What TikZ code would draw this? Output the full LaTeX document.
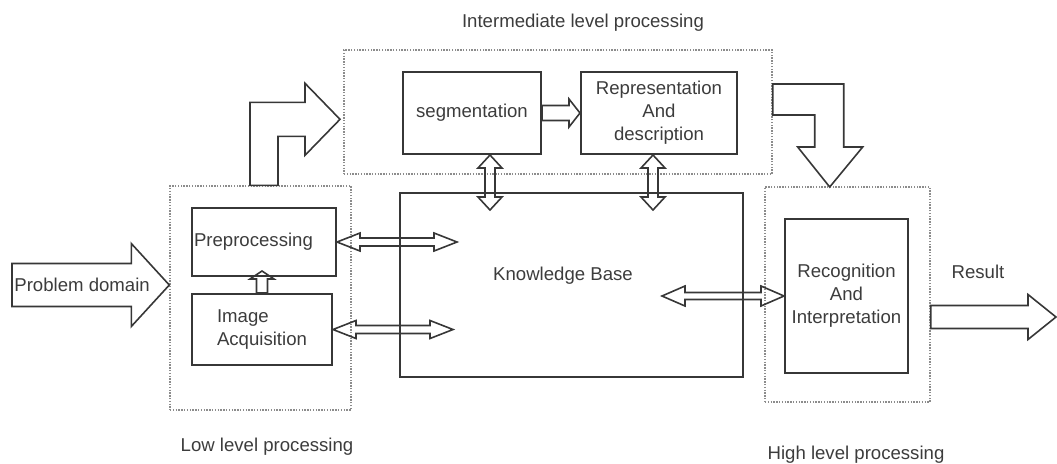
\documentclass[tikz,border=0pt]{standalone}
\usepackage{fontspec}
\setmainfont{Liberation Sans}
\usetikzlibrary{calc, positioning}
\definecolor{LineGray}{RGB}{55,55,55}
\definecolor{DotGray}{RGB}{140,140,140}
\definecolor{TextGray}{RGB}{60,60,60}

% outlined block arrows: shaft half width, head half width, head length
\tikzset{
  hsgl/.style n args={3}{to path={let \p1=(\tikztostart), \p2=(\tikztotarget) in
    (\x1,\y1+#1) -- (\x2-#3,\y1+#1) -- (\x2-#3,\y1+#2) -- (\x2,\y1)
    -- (\x2-#3,\y1-#2) -- (\x2-#3,\y1-#1) -- (\x1,\y1-#1) -- cycle}},
  hdbl/.style n args={3}{to path={let \p1=(\tikztostart), \p2=(\tikztotarget) in
    (\x1,\y1) -- (\x1+#3,\y1+#2) -- (\x1+#3,\y1+#1) -- (\x2-#3,\y1+#1) -- (\x2-#3,\y1+#2)
    -- (\x2,\y1) -- (\x2-#3,\y1-#2) -- (\x2-#3,\y1-#1) -- (\x1+#3,\y1-#1) -- (\x1+#3,\y1-#2) -- cycle}},
  vsgl/.style n args={3}{to path={let \p1=(\tikztostart), \p2=(\tikztotarget) in
    (\x1-#1,\y1) -- (\x1-#1,\y2-#3) -- (\x1-#2,\y2-#3) -- (\x1,\y2)
    -- (\x1+#2,\y2-#3) -- (\x1+#1,\y2-#3) -- (\x1+#1,\y1) -- cycle}},
  vdbl/.style n args={3}{to path={let \p1=(\tikztostart), \p2=(\tikztotarget) in
    (\x1,\y1) -- (\x1-#2,\y1-#3) -- (\x1-#1,\y1-#3) -- (\x1-#1,\y2+#3) -- (\x1-#2,\y2+#3)
    -- (\x1,\y2) -- (\x1+#2,\y2+#3) -- (\x1+#1,\y2+#3) -- (\x1+#1,\y1-#3) -- (\x1+#2,\y1-#3) -- cycle}},
}

\begin{document}
\begin{tikzpicture}[x=0.5pt, y=-0.5pt,
  font=\fontsize{9.3}{11.5}\selectfont,
  txt/.style={text=TextGray},
  blockbox/.style={draw=LineGray, line width=1pt, txt, align=center, inner sep=0pt},
  stagebox/.style={draw=DotGray, line width=0.7pt, dash pattern=on 0.7pt off 0.7pt},
  blk/.style={draw=LineGray, line width=0.8pt, line join=miter}
]
  \useasboundingbox (0,0) rectangle (1057,463);

  % ---- stages ----
  \node[stagebox, minimum width=90.5pt, minimum height=112pt] (low) at (260.5,298) {};
  \node[stagebox, minimum width=214pt, minimum height=62pt] (inter) at (558,112) {};
  \node[stagebox, minimum width=82.5pt, minimum height=107.5pt] (high) at (847.5,294.5) {};
  \node[txt] (lowlabel) at (267,447) {Low level processing};
  \node[txt] (interlabel) at (583,23) {Intermediate level processing};
  \node[txt] (highlabel) at (856,455) {High level processing};

  % ---- blocks ----
  \node[blockbox, minimum width=72pt, minimum height=34pt, text width=70pt, align=left] (pre) at (264,242) {Preprocessing};
  \node[blockbox, minimum width=70pt, minimum height=35.5pt, align=left] (acq) at (262,329.5) {Image\\Acquisition};
  \node[blockbox, minimum width=69pt, minimum height=41pt] (seg) at (472,113) {segmentation};
  \node[blockbox, minimum width=78pt, minimum height=41pt] (rep) at (659,113) {Representation\\And\\description};
  \node[blockbox, minimum width=171.5pt, minimum height=92pt] (kb) at (571.5,285) {};
  \node[txt] (kbtext) at (563,276) {Knowledge Base};
  \node[blockbox, minimum width=61.5pt, minimum height=77pt] (rec) at (846.5,296) {Recognition\\And\\Interpretation};

  % ---- free ends ----
  \coordinate (pdstart) at (12,285);
  \coordinate (resend) at (1056,317);
  \coordinate (kbpre) at (457,242);
  \coordinate (kbacq) at (453,329.5);
  \coordinate (kbrec) at (662,296);
  \coordinate (kbseg) at (490,210);
  \coordinate (kbrep) at (653,210);

  % ---- input / output ----
  \draw[blk, hsgl={10.75pt}{20.75pt}{19pt}] (pdstart) to (low.west |- pdstart);
  \node[txt, anchor=west, inner sep=1pt] (pdtext) at (pdstart) {Problem domain};
  \draw[blk, hsgl={5.75pt}{11.25pt}{14pt}] (high.east |- resend) to (resend);
  \node[txt] (reslabel) at (978,272) {Result};

  % ---- inner arrows ----
  \draw[blk, vsgl={2.75pt}{6pt}{4pt}] (acq.north) to ([yshift=3pt]pre.south);
  \draw[blk, hsgl={3.75pt}{7pt}{5.5pt}] (seg.east) to (rep.west);
  \draw[blk, hdbl={2pt}{4.5pt}{11.5pt}] (pre.east) to (kbpre);
  \draw[blk, hdbl={2pt}{4.5pt}{11.5pt}] (acq.east) to (kbacq);
  \draw[blk, hdbl={1.75pt}{5pt}{11.5pt}] (kbrec) to (rec.west);
  \draw[blk, vdbl={2.5pt}{6pt}{6.5pt}] (seg.south -| kbseg) to (kbseg);
  \draw[blk, vdbl={2.5pt}{6pt}{6.5pt}] (rep.south -| kbrep) to (kbrep);

  % ---- stage to stage ----
  \draw[blk] ([xshift=-5.25pt]low.north) -- ++(0,-83) -- ++(55,0) -- ++(0,-19)
    -- ++(35,36) -- ++(-35,36) -- ++(0,-19) -- ++(-27,0) -- ++(0,49) -- cycle;
  \draw[blk] ([yshift=14pt]inter.east) -- ++(71,0) -- ++(0,63) -- ++(19,0)
    -- ++(-33,40) -- ++(-32,-40) -- ++(17,0) -- ++(0,-32) -- ++(-42,0) -- cycle;
\end{tikzpicture}
\end{document}
